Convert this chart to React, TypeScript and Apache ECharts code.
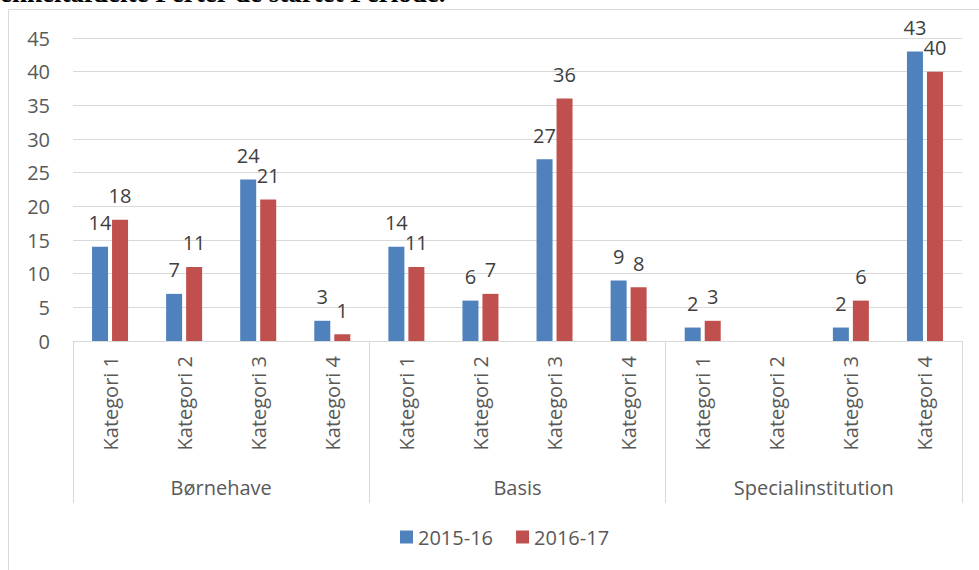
import React, { useEffect, useRef } from "react";
import * as echarts from "echarts";

const groups = ["Børnehave", "Basis", "Specialinstitution"];
const subCategories = ["Kategori 1", "Kategori 2", "Kategori 3", "Kategori 4"];
const series1Name = "2015-16";
const series2Name = "2016-17";
const values1516: (number | null)[] = [14, 7, 24, 3, 14, 6, 27, 9, 2, null, 2, 43];
const values1617: (number | null)[] = [18, 11, 21, 1, 11, 7, 36, 8, 3, null, 6, 40];
const yTicks = { min: 0, max: 45, interval: 5 };
const headingText = "enkeltafdelte Perter de startet Periode.";

const FONT = "'Open Sans', sans-serif";
const AXIS_GREY = "#595959";
const LABEL_GREY = "#404040";
const LINE_GREY = "#D9D9D9";

export default function App() {
  const ref = useRef<HTMLDivElement>(null);
  useEffect(() => {
    if (!ref.current) return;
    const chart = echarts.init(ref.current, undefined, { renderer: "svg" });
    const categories: string[] = [];
    groups.forEach(() => subCategories.forEach((c) => categories.push(c)));
    const labelStyle = {
      show: true,
      position: "top" as const,
      distance: 14,
      fontFamily: FONT,
      fontSize: 20,
      color: LABEL_GREY,
    };
    chart.setOption({
      animation: false,
      textStyle: { fontFamily: FONT },
      graphic: [
        {
          type: "rect",
          shape: { x: 8.5, y: 9.5, width: 1000, height: 600 },
          style: { fill: "none", stroke: LINE_GREY, lineWidth: 1 },
          silent: true,
        },
        {
          type: "text",
          x: 0,
          y: 6.5,
          style: {
            text: headingText,
            font: "bold 27px 'Liberation Serif', serif",
            fill: "#000",
            verticalAlign: "bottom",
          },
        },
      ],
      grid: { left: 73, right: 17, top: 38, bottom: 229, containLabel: false },
      legend: {
        data: [series1Name, series2Name],
        left: 395,
        top: 522,
        icon: "rect",
        itemWidth: 13,
        itemHeight: 13,
        itemGap: 23,
        textStyle: { fontFamily: FONT, fontSize: 20, color: AXIS_GREY, padding: [0, 0, 0, 0] },
      },
      xAxis: [
        {
          type: "category",
          data: categories,
          axisLine: { show: true, lineStyle: { color: LINE_GREY, width: 1 } },
          axisTick: { show: false },
          axisLabel: {
            rotate: 90,
            margin: 15,
            fontFamily: FONT,
            fontSize: 20,
            color: AXIS_GREY,
            interval: 0,
          },
        },
        {
          type: "category",
          data: groups,
          position: "bottom",
          axisLine: { show: false },
          axisTick: { show: true, length: 162, lineStyle: { color: LINE_GREY, width: 1 } },
          axisLabel: {
            margin: 136,
            fontFamily: FONT,
            fontSize: 20,
            color: AXIS_GREY,
            interval: 0,
          },
        },
      ],
      yAxis: {
        type: "value",
        min: yTicks.min,
        max: yTicks.max,
        interval: yTicks.interval,
        axisLine: { show: false },
        axisTick: { show: false },
        splitLine: { lineStyle: { color: LINE_GREY, width: 1 } },
        axisLabel: { margin: 23, fontFamily: FONT, fontSize: 20, color: AXIS_GREY },
      },
      series: [
        {
          name: series1Name,
          type: "bar",
          xAxisIndex: 0,
          data: values1516,
          barWidth: 16,
          barGap: "25%",
          itemStyle: { color: "#4F81BD" },
          label: labelStyle,
        },
        {
          name: series2Name,
          type: "bar",
          xAxisIndex: 0,
          data: values1617,
          barWidth: 16,
          barGap: "25%",
          itemStyle: { color: "#C0504D" },
          label: labelStyle,
        },
      ],
    });
    return () => chart.dispose();
  }, []);
  return (
    <div
      ref={ref}
      style={{ position: "absolute", left: 0, top: 0, width: 979, height: 570 }}
    />
  );
}
